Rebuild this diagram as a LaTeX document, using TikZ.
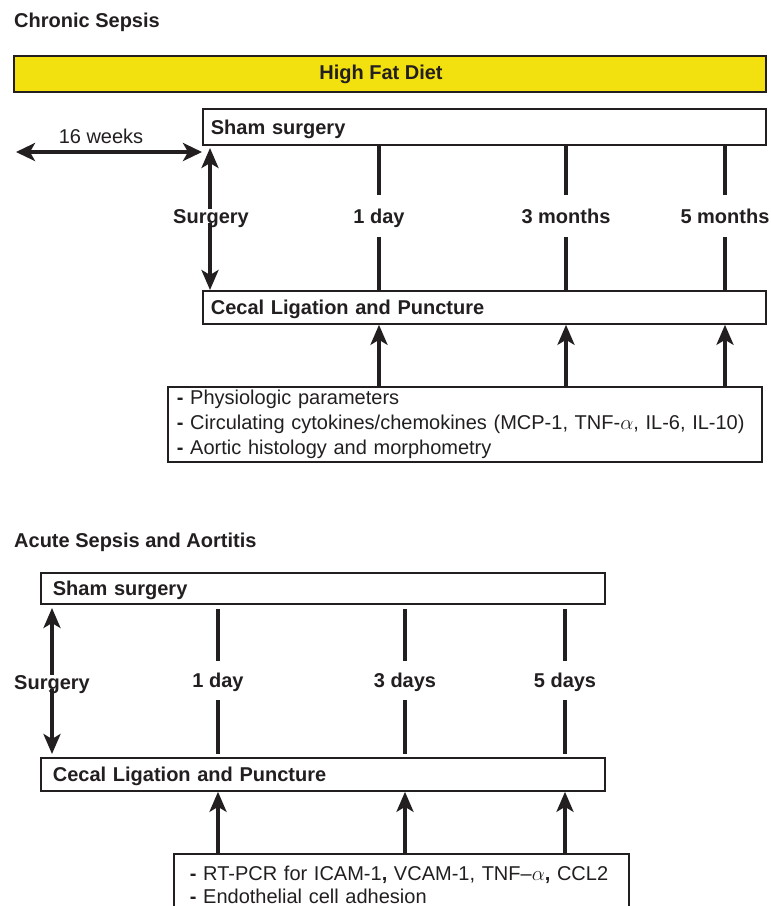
\documentclass[tikz,border=0pt]{standalone}
\usepackage{fontspec}
\setmainfont{Liberation Sans}
\usetikzlibrary{arrows.meta,calc}
\definecolor{ink}{HTML}{231F20}
\definecolor{hfdyellow}{HTML}{F2E10F}
\begin{document}
\begin{tikzpicture}[x=1pt,y=-1pt,
  txtr/.style={font=\fontsize{20}{25}\selectfont, text=ink, inner sep=0pt},
  txtb/.style={font=\fontsize{20}{25}\selectfont\bfseries, text=ink, inner sep=0pt},
  boxb/.style={draw=ink, line width=1.8pt, fill=white, anchor=north west, inner xsep=0pt, inner ysep=0pt,
    align=left, font=\fontsize{20}{25}\selectfont\bfseries, text=ink, text height=14.5pt, text depth=0pt},
  boxr/.style={draw=ink, line width=1.8pt, fill=white, anchor=north west, inner xsep=0pt, inner ysep=0pt,
    align=left, text=ink},
  tlab/.style={txtb, text height=14pt, text depth=0pt},
  tl/.style={draw=ink, line width=3.5pt},
  up/.style={draw=ink, line width=3.5pt, -{Stealth[length=20pt,width=17pt,inset=5pt]}},
  dbl/.style={draw=ink, line width=3.5pt, {Stealth[length=19pt,width=18pt,inset=5pt]}-{Stealth[length=19pt,width=18pt,inset=5pt]}}
]
\clip (0,0) rectangle (771,906);
\fill[white] (0,0) rectangle (771,906);

% ---------------- Chronic sepsis ----------------
\node[txtb, anchor=base west] (title1) at (14,27) {Chronic Sepsis};

\node[draw=ink, line width=1.8pt, fill=hfdyellow, anchor=north west, inner sep=0pt,
      minimum width=752pt, minimum height=36pt] (hfd) at (13,55) {};
\node[txtb, text height=14.5pt, text depth=0pt] (hfdtext) at (381,72.5) {High Fat Diet};

\node[boxb, minimum width=563pt, minimum height=36pt, text width=563pt] (sham1) at (202,108)
  {\hspace*{8pt}Sham surgery};
\node[boxb, minimum width=563pt, minimum height=33pt, text width=563pt] (clp1) at (202,290)
  {\hspace*{8pt}Cecal Ligation and Puncture};

\node[boxr, minimum width=594pt, minimum height=75pt, text width=594pt,
      font=\fontsize{20}{25}\selectfont] (meas1) at (167,386)
  {\mbox{\hspace*{9pt}\textbf{-} Physiologic parameters}\\
   \mbox{\hspace*{9pt}\textbf{-} Circulating cytokines/chemokines (MCP-1, TNF-$\alpha$, IL-6, IL-10)}\\
   \mbox{\hspace*{9pt}\textbf{-} Aortic histology and morphometry}};

% 16 weeks
\coordinate (w0) at (16,152);
\coordinate (w1) at (202,152);
\draw[dbl] (w0) -- (w1);
\node[txtr, text height=14pt, text depth=0pt] (wk) at (101,136.5) {16 weeks};

% surgery arrow
\node[tlab] (surg1) at (211,216) {Surgery};
\coordinate (s1top) at (210,148);
\draw[up] (surg1.north -| s1top) -- (s1top);
\draw[up] (surg1.south -| s1top) -- (s1top |- clp1.north);

% time points
\node[tlab, minimum height=42pt] (d1) at (379,216) {1 day};
\node[tlab, minimum height=42pt] (m3) at (566,216) {3 months};
\node[tlab, minimum height=42pt] (m5) at (725,216) {5 months};
\foreach \n in {d1,m3,m5}{
  \draw[tl] (sham1.south -| \n) -- (\n.north);
  \draw[tl] (\n.south) -- (\n |- clp1.north);
  \draw[up] (meas1.north -| \n) -- (\n |- clp1.south);
}

% ---------------- Acute sepsis ----------------
\node[txtb, anchor=base west] (title2) at (14,547) {Acute Sepsis and Aortitis};

\node[boxb, minimum width=564pt, minimum height=31pt, text width=564pt] (sham2) at (40,572)
  {\hspace*{12pt}Sham surgery};
\node[boxb, minimum width=564pt, minimum height=33pt, text width=564pt] (clp2) at (40,757)
  {\hspace*{12pt}Cecal Ligation and Puncture};

\node[boxr, minimum width=455pt, minimum height=61pt, text width=455pt,
      font=\fontsize{20}{23}\selectfont] (meas2) at (173,853)
  {\mbox{\hspace*{16pt}\textbf{-} RT-PCR for ICAM-1\textbf{,} VCAM-1, TNF--$\alpha$\textbf{,} CCL2}\\
   \mbox{\hspace*{16pt}\textbf{-} Endothelial cell adhesion}};

\node[tlab] (surg2) at (52,682) {Surgery};
\coordinate (s2top) at (52,608);
\draw[up] (surg2.north) -- (s2top);
\draw[up, shorten >=3pt] (surg2.south) -- (surg2 |- clp2.north);

\node[tlab, minimum height=39pt] (d1b) at (218,680.5) {1 day};
\node[tlab, minimum height=39pt] (d3b) at (405,680.5) {3 days};
\node[tlab, minimum height=39pt] (d5b) at (565,680.5) {5 days};
\foreach \n in {d1b,d3b,d5b}{
  \draw[tl, shorten <=4pt] (sham2.south -| \n) -- (\n.north);
  \draw[tl, shorten >=3pt] (\n.south) -- (\n |- clp2.north);
  \draw[up] (meas2.north -| \n) -- (\n |- clp2.south);
}
\end{tikzpicture}
\end{document}
